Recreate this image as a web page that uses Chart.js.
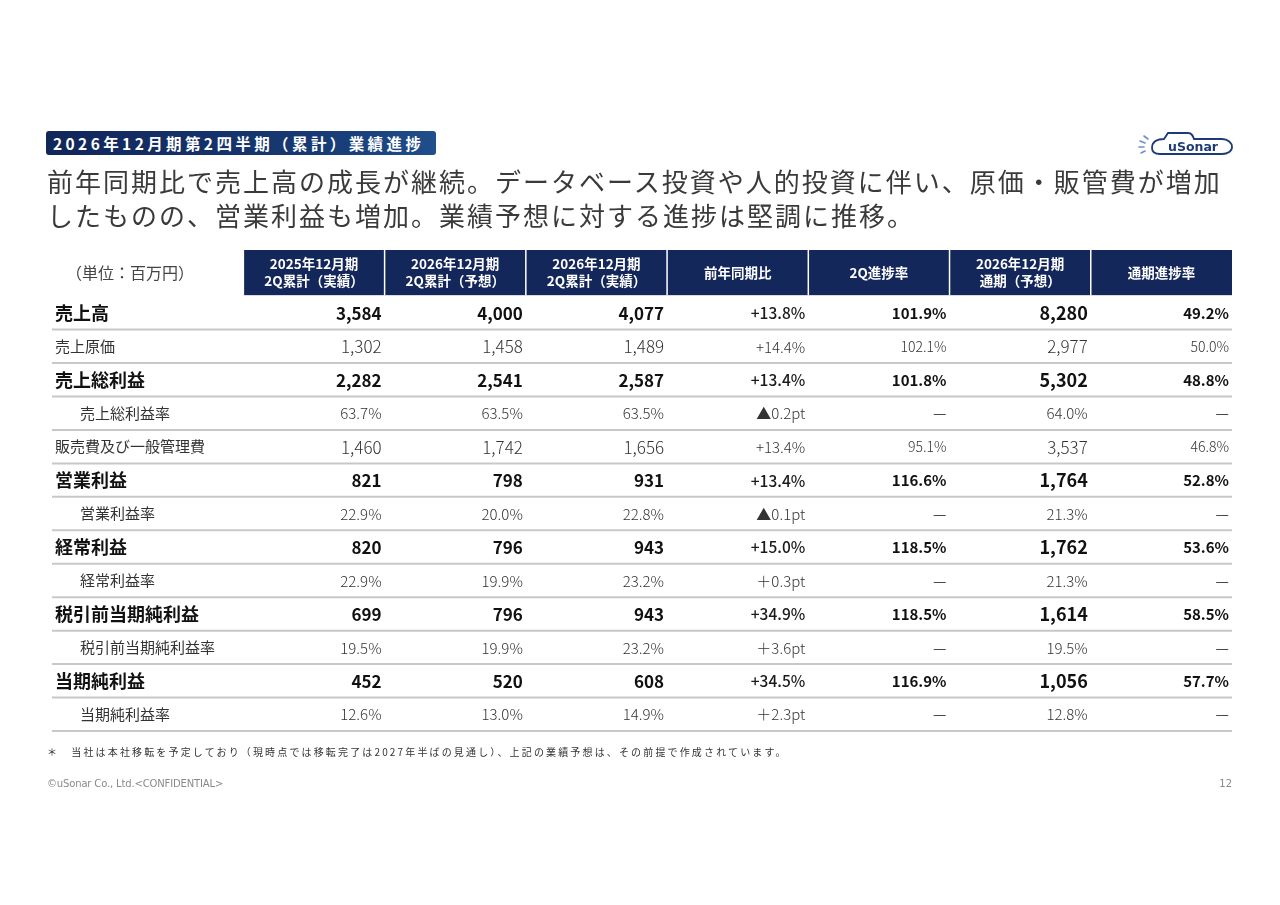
<!DOCTYPE html>
<html lang="ja">
<head>
<meta charset="utf-8">
<script src="https://cdn.jsdelivr.net/npm/chart.js@4.4.1/dist/chart.umd.min.js"></script>
<style>
  body { margin: 0; background: #fff; font-family: "Noto Sans CJK JP", "Noto Sans", sans-serif; }
  #page { position: relative; width: 1280px; height: 905px; overflow: hidden; }
  #table { position: absolute; left: 0; top: 0; }
  .badge {
    position: absolute; left: 46px; top: 131px; width: 390px; height: 24px;
    background: linear-gradient(90deg, #112659 0%, #173a74 70%, #1f4f8c 100%);
    border-radius: 3px; color: #fff; font-weight: 700; font-size: 15.5px;
    line-height: 24px; letter-spacing: 3.4px; padding-left: 7px; box-sizing: border-box;
    white-space: nowrap;
  }
  .lead {
    position: absolute; left: 47px; top: 164px; font-size: 26px; line-height: 34px;
    letter-spacing: 2px; color: #3a3a3a; white-space: nowrap;
  }
  .note {
    position: absolute; left: 47px; top: 744px; font-size: 10px; letter-spacing: 2.15px;
    color: #333; white-space: nowrap;
  }
  .copy { position: absolute; left: 47px; top: 778px; font-size: 10px; color: #8a8a8a; font-family: "DejaVu Sans", sans-serif; letter-spacing: -0.15px; }
  .page { position: absolute; right: 48px; top: 778px; font-size: 10px; color: #8a8a8a; font-family: "DejaVu Sans", sans-serif; }
  .logo { position: absolute; left: 1138px; top: 128px; }
</style>
</head>
<body>
<div id="page">
  <canvas id="table" width="1280" height="905"></canvas>
  <div class="badge">2026年12月期第2四半期（累計）業績進捗</div>
  <svg class="logo" width="96" height="30" viewBox="0 0 96 30">
    <g stroke="#6c8fd0" stroke-width="1.6" stroke-linecap="round">
      <line x1="2" y1="13" x2="7" y2="15"/>
      <line x1="1" y1="19" x2="6" y2="19"/>
      <line x1="3" y1="25" x2="7" y2="23"/>
      <line x1="6" y1="8" x2="10" y2="11"/>
    </g>
    <path d="M14 20 C14 13 20 11 26 11 L30 5 L50 5 C54 5 55 8 56 11 L84 11 C90 11 94 15 94 19 C94 23 90 26 84 26 L22 26 C17 26 14 24 14 20 Z" fill="#fff" stroke="#1d3b78" stroke-width="1.8"/>
    <text x="55" y="23" text-anchor="middle" font-family="DejaVu Sans, sans-serif" font-weight="700" font-size="12.5" fill="#1d3b78">uSonar</text>
  </svg>
  <div class="lead">前年同期比で売上高の成長が継続。データベース投資や人的投資に伴い、原価・販管費が増加<br>したものの、営業利益も増加。業績予想に対する進捗は堅調に推移。</div>
  <div class="note">＊　当社は本社移転を予定しており（現時点では移転完了は2027年半ばの見通し）、上記の業績予想は、その前提で作成されています。</div>
  <div class="copy">©uSonar Co., Ltd.&lt;CONFIDENTIAL&gt;</div>
  <div class="page">12</div>
</div>
<script>
// 行ラベル（単位：百万円）
const rowLabels = [
  "売上高", "売上原価", "売上総利益", "売上総利益率", "販売費及び一般管理費",
  "営業利益", "営業利益率", "経常利益", "経常利益率",
  "税引前当期純利益", "税引前当期純利益率", "当期純利益", "当期純利益率"
];
// total = 太字の主要項目, item = 費用項目, ratio = 利益率
const rowKinds = [
  "total", "item", "total", "ratio", "item",
  "total", "ratio", "total", "ratio",
  "total", "ratio", "total", "ratio"
];
const columnHeaders = [
  ["2025年12月期", "2Q累計（実績）"],
  ["2026年12月期", "2Q累計（予想）"],
  ["2026年12月期", "2Q累計（実績）"],
  ["前年同期比"],
  ["2Q進捗率"],
  ["2026年12月期", "通期（予想）"],
  ["通期進捗率"]
];
const unitLabel = "（単位：百万円）";

const prev2Q     = [3584, 1302, 2282, 63.7, 1460, 821, 22.9, 820, 22.9, 699, 19.5, 452, 12.6];
const plan2Q     = [4000, 1458, 2541, 63.5, 1742, 798, 20.0, 796, 19.9, 796, 19.9, 520, 13.0];
const actual2Q   = [4077, 1489, 2587, 63.5, 1656, 931, 22.8, 943, 23.2, 943, 23.2, 608, 14.9];
const yoyChange  = [13.8, 14.4, 13.4, -0.2, 13.4, 13.4, -0.1, 15.0, 0.3, 34.9, 3.6, 34.5, 2.3];
const progress2Q = [101.9, 102.1, 101.8, null, 95.1, 116.6, null, 118.5, null, 118.5, null, 116.9, null];
const planFY     = [8280, 2977, 5302, 64.0, 3537, 1764, 21.3, 1762, 21.3, 1614, 19.5, 1056, 12.8];
const progressFY = [49.2, 50.0, 48.8, null, 46.8, 52.8, null, 53.6, null, 58.5, null, 57.7, null];

const columns = [prev2Q, plan2Q, actual2Q, yoyChange, progress2Q, planFY, progressFY];
const columnKinds = ["amount", "amount", "amount", "change", "progress", "amount", "progress"];

const FONT = '"Noto Sans CJK JP", "Noto Sans", sans-serif';
const LABEL_COL = 1.355; // ラベル列の幅（データ列比）
const HEADER_ROW = 1.38; // ヘッダー行の高さ（データ行比）

function formatCell(v, colKind, rowKind) {
  if (v === null) return "—";
  if (colKind === "amount") {
    return rowKind === "ratio" ? v.toFixed(1) + "%" : v.toLocaleString("en-US");
  }
  if (colKind === "change") {
    if (rowKind === "ratio") return (v < 0 ? "▲" : "＋") + Math.abs(v).toFixed(1) + "pt";
    return "+" + v.toFixed(1) + "%";
  }
  return v.toFixed(1) + "%";
}

function cellFont(colIdx, rowKind, v) {
  const ck = columnKinds[colIdx];
  if (v === null) return ["400 15px " + FONT, "#3a3a3a"];
  if (rowKind === "total") {
    if (colIdx === 5) return ["700 18px " + FONT, "#111"];
    if (ck === "amount") return ["700 17px " + FONT, "#111"];
    if (ck === "change") return ["500 15.5px " + FONT, "#1a1a1a"];
    return ["700 15px " + FONT, "#111"];
  }
  if (rowKind === "item") {
    if (ck === "amount") return ["300 17px " + FONT, "#333"];
    if (ck === "change") return ["300 15px " + FONT, "#333"];
    return ["300 14px " + FONT, "#333"];
  }
  return ["300 15px " + FONT, "#333"];
}

const tablePlugin = {
  id: "tableCells",
  afterDraw(chart) {
    const { ctx, scales: { x, y } } = chart;
    const left = x.getPixelForValue(-LABEL_COL);
    const right = x.getPixelForValue(columns.length);
    const headTop = y.getPixelForValue(-HEADER_ROW);
    const headBottom = y.getPixelForValue(0) - 1;
    ctx.save();

    // header cells
    columnHeaders.forEach((lines, c) => {
      const x0 = x.getPixelForValue(c);
      const x1 = x.getPixelForValue(c + 1);
      ctx.fillStyle = "#14275b";
      ctx.fillRect(x0, headTop, x1 - x0, headBottom - headTop);
      ctx.strokeStyle = "#ffffff";
      ctx.lineWidth = 1.5;
      ctx.beginPath();
      ctx.moveTo(x0, headTop); ctx.lineTo(x0, headBottom);
      ctx.stroke();
      ctx.fillStyle = "#fff";
      ctx.font = "700 13.5px " + FONT;
      ctx.textAlign = "center";
      ctx.textBaseline = "middle";
      const mid = (headTop + headBottom) / 2;
      const cx = (x0 + x1) / 2;
      if (lines.length === 1) {
        ctx.fillText(lines[0], cx, mid);
      } else {
        ctx.fillText(lines[0], cx, mid - 8.5);
        ctx.fillText(lines[1], cx, mid + 8.5);
      }
    });

    ctx.fillStyle = "#444";
    ctx.font = "400 16px " + FONT;
    ctx.textAlign = "left";
    ctx.textBaseline = "middle";
    ctx.fillText(unitLabel, left + 14, (headTop + headBottom) / 2);

    // row separators
    ctx.strokeStyle = "#c8c8c8";
    ctx.lineWidth = 2;
    rowLabels.forEach((_, r) => {
      const yy = y.getPixelForValue(r + 1);
      ctx.beginPath();
      ctx.moveTo(left, yy); ctx.lineTo(right, yy);
      ctx.stroke();
    });

    // row labels
    rowLabels.forEach((label, r) => {
      const kind = rowKinds[r];
      const yy = y.getPixelForValue(r + 0.5);
      if (kind === "total") {
        ctx.font = "700 18px " + FONT; ctx.fillStyle = "#111";
        ctx.fillText(label, left + 3, yy);
      } else if (kind === "item") {
        ctx.font = "400 15px " + FONT; ctx.fillStyle = "#333";
        ctx.fillText(label, left + 3, yy);
      } else {
        ctx.font = "400 15px " + FONT; ctx.fillStyle = "#333";
        ctx.fillText(label, left + 28, yy);
      }
    });

    // values
    ctx.textAlign = "right";
    columns.forEach((col, c) => {
      const xr = x.getPixelForValue(c + 1) - 3;
      col.forEach((v, r) => {
        const [font, color] = cellFont(c, rowKinds[r], v);
        ctx.font = font;
        ctx.fillStyle = color;
        ctx.fillText(formatCell(v, columnKinds[c], rowKinds[r]), xr, y.getPixelForValue(r + 0.5) + 0.5);
      });
    });
    ctx.restore();
  }
};

new Chart(document.getElementById("table"), {
  type: "scatter",
  data: { datasets: [{ data: [] }] },
  options: {
    responsive: false,
    animation: false,
    events: [],
    layout: { padding: { left: 52, right: 48, top: 250, bottom: 174 } },
    plugins: { legend: { display: false }, tooltip: { enabled: false } },
    scales: {
      x: { type: "linear", display: false, min: -LABEL_COL, max: columns.length },
      y: { type: "linear", display: false, reverse: true, min: -HEADER_ROW, max: rowLabels.length }
    }
  },
  plugins: [tablePlugin]
});
</script>
</body>
</html>
